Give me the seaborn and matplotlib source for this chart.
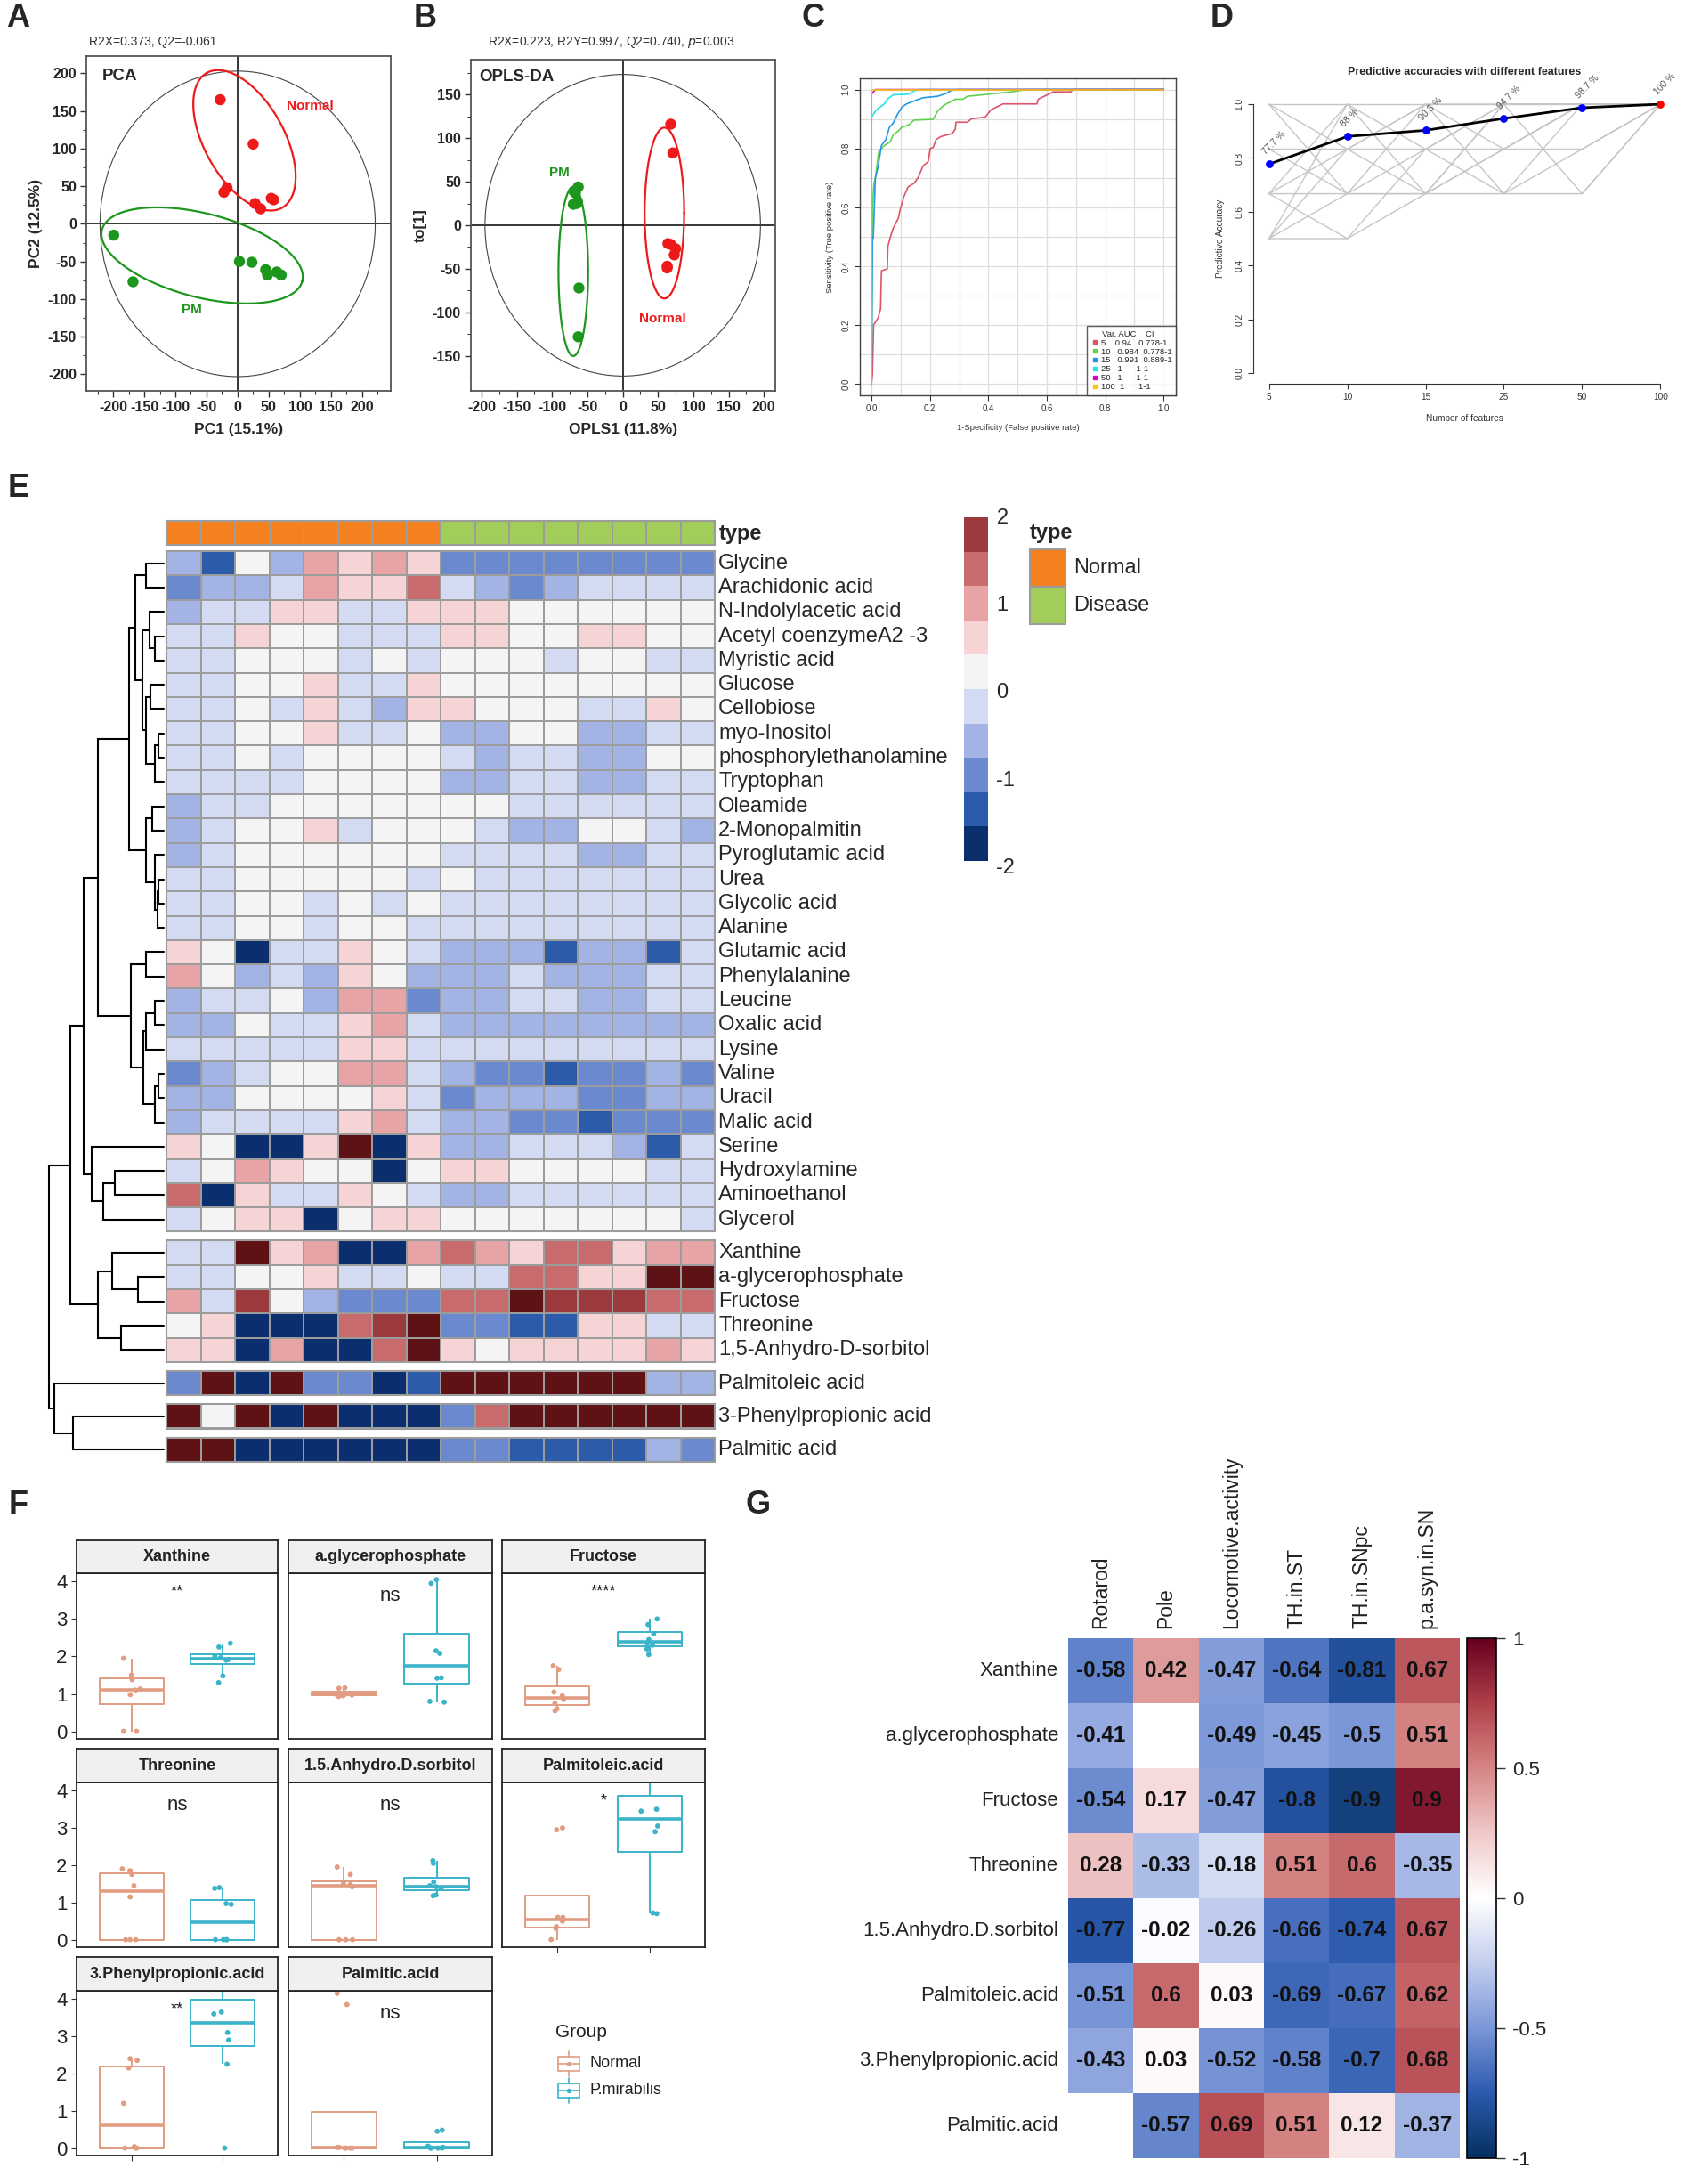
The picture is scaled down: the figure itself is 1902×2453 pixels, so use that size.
import numpy as np
import pandas as pd
import matplotlib
matplotlib.use("Agg")
import matplotlib.pyplot as plt
import seaborn as sns
from matplotlib.patches import Ellipse, Rectangle
from matplotlib.colors import ListedColormap, BoundaryNorm, LinearSegmentedColormap
from matplotlib.ticker import MultipleLocator

# =========================
# Data: panel A (PCA) and B (OPLS-DA)
# =========================

pca_normal_x = [-28, 25, -22, -17, 28, 37, 54, 58]
pca_normal_y = [165, 106, 42, 48, 27, 20, 34, 32]
pca_pm_x = [-199, -168, 3, 23, 45, 48, 63, 70]
pca_pm_y = [-15, -77, -50, -51, -61, -68, -64, -68]
pca_t2 = (221, 203)
pca_ell_normal = ((11, 111), (-60.1, 89.8), (-56.1, -25.5))
pca_ell_pm = ((-57, -42), (160.8, -34.3), (16.9, 53.9))

opls_normal_x = [68, 71, 64, 68, 75, 73, 63, 63]
opls_normal_y = [116, 83, -21, -22, -27, -34, -47, -49]
opls_pm_x = [-63, -69, -67, -70, -65, -64, -62, -63]
opls_pm_y = [44, 39, 37, 24, 25, 27, -72, -128]
opls_t2 = (195, 173)
opls_ell_normal = ((59, 14), (28, 0), (0, 98))
opls_ell_pm = ((-70, -53), (21, 0), (0, 97))

# =========================
# Data: panel C (ROC curves)
# =========================

roc_vars = ['5', '10', '15', '25', '50', '100']
roc_auc = ['0.94', '0.984', '0.991', '1', '1', '1']
roc_ci = ['0.778-1', '0.778-1', '0.889-1', '1-1', '1-1', '1-1']
roc_fpr = [
    [0, 0.003, 0.007, 0.023, 0.031, 0.034, 0.054, 0.056, 0.064, 0.074, 0.092, 0.097,
     0.11, 0.125, 0.145, 0.16, 0.176, 0.194, 0.201, 0.211, 0.221, 0.237, 0.277, 0.287,
     0.289, 0.328, 0.343, 0.389, 0.409, 0.45, 0.566, 0.571, 0.622, 0.683, 0.688, 1.0],
    [0, 0.003, 0.008, 0.013, 0.025, 0.044, 0.064, 0.074, 0.094, 0.103, 0.13, 0.145,
     0.211, 0.226, 0.247, 0.287, 0.313, 0.328, 0.379, 0.429, 0.48, 0.51, 0.541, 1.0],
    [0, 0.003, 0.006, 0.013, 0.023, 0.034, 0.049, 0.061, 0.074, 0.089, 0.105, 0.12,
     0.145, 0.176, 0.226, 0.257, 0.272, 0.297, 1.0],
    [0, 0.0, 0.013, 0.023, 0.044, 0.054, 0.074, 0.125, 0.15, 0.171, 1.0],
    [0, 0.0, 0.013, 1.0],
    [0, 0.0, 1.0],
]
roc_tpr = [
    [0, 0.03, 0.2, 0.225, 0.255, 0.384, 0.391, 0.467, 0.497, 0.528, 0.563, 0.588,
     0.634, 0.669, 0.681, 0.701, 0.74, 0.755, 0.8, 0.803, 0.83, 0.84, 0.851, 0.866,
     0.889, 0.889, 0.901, 0.906, 0.931, 0.951, 0.951, 0.967, 0.992, 0.992, 1.0, 1.0],
    [0, 0.598, 0.679, 0.699, 0.79, 0.81, 0.822, 0.846, 0.861, 0.871, 0.881, 0.896,
     0.899, 0.926, 0.946, 0.967, 0.967, 0.977, 0.982, 0.987, 0.992, 0.997, 1.0, 1.0],
    [0, 0.49, 0.497, 0.699, 0.74, 0.81, 0.83, 0.871, 0.886, 0.916, 0.941, 0.951,
     0.961, 0.972, 0.977, 0.987, 0.997, 1.0, 1.0],
    [0, 0.906, 0.926, 0.936, 0.951, 0.967, 0.982, 0.984, 0.997, 1.0, 1.0],
    [0, 0.984, 1.0, 1.0],
    [0, 1.0, 1.0],
]
roc_colors = ['#DF536B', '#61D04F', '#2297E6', '#28E2E5', '#CD0BBC', '#F5C710']

# =========================
# Data: panel D (accuracy vs features)
# =========================

n_features = ['5', '10', '15', '25', '50', '100']
mean_acc = [0.777, 0.88, 0.903, 0.947, 0.987, 1.0]
acc_labels = ['77.7 %', '88 %', '90.3 %', '94.7 %', '98.7 %', '100 %']
cv_runs = [
    [1.0, 0.833, 0.667, 0.667, 0.667, 1.0],
    [0.667, 1.0, 0.833, 1.0, 1.0, 1.0],
    [0.5, 1.0, 0.667, 0.833, 0.833, 1.0],
    [0.5, 0.833, 1.0, 0.667, 1.0, 1.0],
    [0.667, 0.5, 0.833, 0.833, 1.0, 1.0],
    [0.833, 0.667, 0.667, 1.0, 0.667, 1.0],
    [0.833, 0.833, 0.833, 0.667, 0.833, 1.0],
    [1.0, 1.0, 1.0, 1.0, 1.0, 1.0],
    [0.5, 0.5, 0.667, 1.0, 1.0, 1.0],
    [0.667, 0.833, 1.0, 0.833, 1.0, 1.0],
    [0.5, 0.667, 1.0, 1.0, 1.0, 1.0],
    [0.667, 0.667, 0.833, 1.0, 1.0, 1.0],
    [1.0, 0.667, 0.667, 0.833, 1.0, 1.0],
]

# =========================
# Data: panel E (heatmap, z-scores)
# =========================

sample_type = ['Normal'] * 8 + ['Disease'] * 8
metabolites = [
    'Glycine', 'Arachidonic acid', 'N-Indolylacetic acid', 'Acetyl coenzymeA2 -3',
    'Myristic acid', 'Glucose', 'Cellobiose', 'myo-Inositol', 'phosphorylethanolamine',
    'Tryptophan', 'Oleamide', '2-Monopalmitin', 'Pyroglutamic acid', 'Urea',
    'Glycolic acid', 'Alanine', 'Glutamic acid', 'Phenylalanine', 'Leucine',
    'Oxalic acid', 'Lysine', 'Valine', 'Uracil', 'Malic acid', 'Serine',
    'Hydroxylamine', 'Aminoethanol', 'Glycerol', 'Xanthine', 'a-glycerophosphate',
    'Fructose', 'Threonine', '1,5-Anhydro-D-sorbitol', 'Palmitoleic acid',
    '3-Phenylpropionic acid', 'Palmitic acid',
]
zscores = [
    [-0.55, -1.35, 0.25, -0.55, 1.0, 0.6, 1.0, 0.6, -0.95, -0.95, -0.95, -0.95, -0.95, -0.95, -0.95, -0.95],
    [-0.95, -0.55, -0.55, -0.15, 1.0, 0.6, 0.6, 1.4, -0.15, -0.55, -0.95, -0.55, -0.15, -0.15, -0.15, -0.15],
    [-0.55, -0.15, -0.15, 0.6, 0.6, -0.15, -0.15, 0.6, 0.6, 0.6, 0.25, 0.25, 0.25, 0.25, 0.25, 0.25],
    [-0.15, -0.15, 0.6, 0.25, 0.25, -0.15, -0.15, -0.15, 0.6, 0.6, 0.25, 0.25, 0.6, 0.6, 0.25, 0.25],
    [-0.15, -0.15, 0.25, 0.25, 0.25, -0.15, 0.25, -0.15, 0.25, 0.25, 0.25, -0.15, 0.25, 0.25, -0.15, -0.15],
    [-0.15, -0.15, 0.25, 0.25, 0.6, -0.15, -0.15, 0.6, 0.25, 0.25, 0.25, 0.25, 0.25, 0.25, 0.25, 0.25],
    [-0.15, -0.15, 0.25, -0.15, 0.6, -0.15, -0.55, 0.6, 0.6, 0.25, 0.25, 0.25, -0.15, -0.15, 0.6, 0.25],
    [-0.15, -0.15, 0.25, 0.25, 0.6, -0.15, -0.15, 0.25, -0.55, -0.55, 0.25, 0.25, -0.55, -0.55, -0.15, -0.15],
    [-0.15, -0.15, 0.25, -0.15, 0.25, 0.25, 0.25, 0.25, -0.15, -0.55, -0.15, -0.15, -0.55, -0.55, 0.25, 0.25],
    [-0.15, -0.15, -0.15, -0.15, 0.25, 0.25, 0.25, 0.25, -0.55, -0.55, -0.15, -0.15, -0.55, -0.55, -0.15, -0.15],
    [-0.55, -0.15, -0.15, 0.25, 0.25, 0.25, 0.25, 0.25, 0.25, 0.25, -0.15, -0.15, -0.15, -0.15, -0.15, -0.15],
    [-0.55, -0.15, 0.25, 0.25, 0.6, -0.15, 0.25, 0.25, 0.25, -0.15, -0.55, -0.55, 0.25, 0.25, -0.15, -0.55],
    [-0.55, -0.15, 0.25, 0.25, 0.25, 0.25, 0.25, 0.25, -0.15, -0.15, -0.15, -0.15, -0.55, -0.55, -0.15, -0.15],
    [-0.15, -0.15, 0.25, 0.25, 0.25, 0.25, 0.25, -0.15, 0.25, -0.15, -0.15, -0.15, -0.15, -0.15, -0.15, -0.15],
    [-0.15, -0.15, 0.25, 0.25, -0.15, 0.25, -0.15, 0.25, -0.15, -0.15, -0.15, -0.15, -0.15, -0.15, -0.15, -0.15],
    [-0.15, -0.15, 0.25, 0.25, -0.15, 0.25, 0.25, -0.15, -0.15, -0.15, -0.15, -0.15, -0.15, -0.15, -0.15, -0.15],
    [0.6, 0.25, -2.2, -0.15, -0.15, 0.6, 0.25, -0.15, -0.55, -0.55, -0.55, -1.35, -0.55, -0.55, -1.35, -0.15],
    [1.0, 0.25, -0.55, -0.15, -0.55, 0.6, 0.25, -0.55, -0.55, -0.55, -0.15, -0.55, -0.55, -0.55, -0.15, -0.15],
    [-0.55, -0.15, -0.15, 0.25, -0.55, 1.0, 1.0, -0.95, -0.55, -0.55, -0.15, -0.15, -0.55, -0.55, -0.15, -0.15],
    [-0.55, -0.55, 0.25, -0.15, -0.15, 0.6, 1.0, -0.15, -0.55, -0.55, -0.55, -0.55, -0.55, -0.55, -0.55, -0.55],
    [-0.15, -0.15, -0.15, -0.15, -0.15, 0.6, 0.6, -0.15, -0.15, -0.15, -0.15, -0.15, -0.15, -0.15, -0.15, -0.15],
    [-0.95, -0.55, -0.15, 0.25, 0.25, 1.0, 1.0, -0.15, -0.55, -0.95, -0.95, -1.35, -0.95, -0.95, -0.55, -0.95],
    [-0.55, -0.55, 0.25, 0.25, 0.25, 0.25, 0.6, -0.15, -0.95, -0.55, -0.55, -0.55, -0.95, -0.95, -0.55, -0.55],
    [-0.55, -0.15, -0.15, -0.15, -0.15, 0.6, 1.0, -0.15, -0.55, -0.55, -0.95, -0.95, -1.35, -0.95, -0.95, -0.95],
    [0.6, 0.25, -2.2, -2.2, 0.6, 2.6, -2.2, 0.6, -0.55, -0.55, -0.15, -0.15, -0.15, -0.55, -1.35, -0.15],
    [-0.15, 0.25, 1.0, 0.6, 0.25, 0.25, -2.2, 0.25, 0.6, 0.6, 0.25, 0.25, 0.25, 0.25, -0.15, -0.15],
    [1.4, -2.2, 0.6, -0.15, -0.15, 0.6, 0.25, -0.15, -0.55, -0.55, -0.15, -0.15, -0.15, -0.15, -0.15, -0.15],
    [-0.15, 0.25, 0.6, 0.6, -2.2, 0.25, 0.6, 0.6, 0.25, 0.25, 0.25, 0.25, 0.25, 0.25, 0.25, -0.15],
    [-0.15, -0.15, 2.6, 0.6, 1.0, -2.2, -2.2, 1.0, 1.4, 1.0, 0.6, 1.4, 1.4, 0.6, 1.0, 1.0],
    [-0.15, -0.15, 0.25, 0.25, 0.6, -0.15, -0.15, 0.25, -0.15, -0.15, 1.4, 1.4, 0.6, 0.6, 2.6, 2.6],
    [1.0, -0.15, 1.8, 0.25, -0.55, -0.95, -0.95, -0.95, 1.4, 1.4, 2.6, 1.8, 1.8, 1.8, 1.4, 1.4],
    [0.25, 0.6, -2.2, -2.2, -2.2, 1.4, 1.8, 2.6, -0.95, -0.95, -1.35, -1.35, 0.6, 0.6, -0.15, -0.15],
    [0.6, 0.6, -2.2, 1.0, -2.2, -2.2, 1.4, 2.6, 0.6, 0.25, 0.6, 0.6, 0.6, 0.6, 1.0, 0.6],
    [-0.95, 2.6, -2.2, 2.6, -0.95, -0.95, -2.2, -1.35, 2.6, 2.6, 2.6, 2.6, 2.6, 2.6, -0.55, -0.55],
    [2.6, 0.25, 2.6, -2.2, 2.6, -2.2, -2.2, -2.2, -0.95, 1.4, 2.6, 2.6, 2.6, 2.6, 2.6, 2.6],
    [2.6, 2.6, -2.2, -2.2, -2.2, -2.2, -2.2, -2.2, -0.95, -0.95, -1.35, -1.35, -1.35, -1.35, -0.55, -0.95],
]
row_clusters = [28, 5, 1, 1, 1]
# row dendrogram: (child a, child b, height); nodes >= 36 are earlier merges
row_merges = [
    (0, 1, 1.25), (3, 4, 0.6), (2, 37, 1.0), (5, 6, 0.9), (7, 8, 0.4), (40, 9, 0.6),
    (39, 41, 1.25), (38, 42, 1.5), (10, 11, 0.8), (13, 14, 0.35), (45, 15, 0.45),
    (12, 46, 0.6), (44, 47, 1.25), (36, 43, 2.0), (49, 48, 2.4), (16, 17, 1.25),
    (18, 19, 0.6), (52, 20, 1.25), (21, 22, 0.35), (54, 23, 0.6), (53, 55, 1.4),
    (51, 56, 2.3), (50, 57, 4.6), (25, 26, 3.4), (59, 27, 4.2), (24, 60, 5.0),
    (58, 61, 5.6), (29, 30, 1.8), (28, 63, 3.6), (31, 32, 3.0), (64, 65, 4.6),
    (62, 66, 6.5), (34, 35, 6.3), (33, 68, 7.6), (67, 69, 8.0),
]

# =========================
# Data: panel F (box plots)
# =========================

f_names = ['Xanthine', 'a.glycerophosphate', 'Fructose', 'Threonine',
           '1.5.Anhydro.D.sorbitol', 'Palmitoleic.acid', '3.Phenylpropionic.acid',
           'Palmitic.acid']
f_normal = [
    [0.0, 0.0, 0.98, 1.10, 1.13, 1.38, 1.50, 1.95],
    [0.93, 0.95, 0.97, 1.0, 1.0, 1.02, 1.15, 1.16],
    [0.55, 0.60, 0.75, 0.85, 0.95, 1.05, 1.65, 1.75],
    [0.0, 0.0, 0.0, 1.15, 1.45, 1.75, 1.85, 1.90],
    [0.0, 0.0, 0.0, 1.42, 1.48, 1.52, 1.75, 1.95],
    [0.0, 0.30, 0.35, 0.50, 0.60, 0.60, 2.95, 3.00],
    [0.0, 0.0, 0.0, 0.04, 1.20, 2.15, 2.35, 2.40],
    [0.0, 0.0, 0.0, 0.0, 0.02, 0.02, 3.85, 4.15],
]
f_pm = [
    [1.30, 1.48, 1.90, 1.92, 1.97, 2.00, 2.25, 2.35],
    [0.78, 0.80, 1.42, 1.43, 2.08, 2.15, 3.95, 4.05],
    [2.05, 2.20, 2.30, 2.35, 2.45, 2.60, 2.85, 3.00],
    [0.0, 0.0, 0.0, 0.0, 0.95, 0.97, 1.38, 1.40],
    [1.18, 1.20, 1.38, 1.42, 1.45, 1.55, 2.05, 2.12],
    [0.70, 0.72, 2.90, 3.05, 3.45, 3.50, 4.90, 5.20],
    [0.0, 2.25, 2.90, 3.10, 3.60, 3.65, 4.93, 5.00],
    [0.0, 0.0, 0.0, 0.0, 0.02, 0.05, 0.45, 0.48],
]
f_sig = ['**', 'ns', '****', 'ns', 'ns', '*', '**', 'ns']
f_sig_y = [3.72, 3.62, 3.72, 3.62, 3.62, 3.72, 3.72, 3.62]

# =========================
# Data: panel G (correlations)
# =========================

g_rows = ['Xanthine', 'a.glycerophosphate', 'Fructose', 'Threonine',
          '1.5.Anhydro.D.sorbitol', 'Palmitoleic.acid', '3.Phenylpropionic.acid',
          'Palmitic.acid']
g_cols = ['Rotarod', 'Pole', 'Locomotive.activity', 'TH.in.ST', 'TH.in.SNpc',
          'p.a.syn.in.SN']
g_corr = [
    [-0.58, 0.42, -0.47, -0.64, -0.81, 0.67],
    [-0.41, np.nan, -0.49, -0.45, -0.5, 0.51],
    [-0.54, 0.17, -0.47, -0.8, -0.9, 0.9],
    [0.28, -0.33, -0.18, 0.51, 0.6, -0.35],
    [-0.77, -0.02, -0.26, -0.66, -0.74, 0.67],
    [-0.51, 0.6, 0.03, -0.69, -0.67, 0.62],
    [-0.43, 0.03, -0.52, -0.58, -0.7, 0.68],
    [np.nan, -0.57, 0.69, 0.51, 0.12, -0.37],
]

# =========================
# Figure setup
# =========================

sns.set_style("ticks")
plt.rcParams['font.family'] = ['Liberation Sans', 'DejaVu Sans']
plt.rcParams['axes.unicode_minus'] = False

W, H = 1902, 2453
fig = plt.figure(figsize=(W / 100, H / 100), dpi=100)


def px_axes(x0, y0, x1, y1):
    return fig.add_axes([x0 / W, 1 - y1 / H, (x1 - x0) / W, (y1 - y0) / H])


RED = '#EE1A1A'
GREEN = '#1C961C'


def score_plot(ax, nx, ny, qx, qy, t2, ell_n, ell_p, xlim, ylim, yticks):
    df = pd.DataFrame({'x': nx + qx, 'y': ny + qy,
                       'group': ['Normal'] * len(nx) + ['PM'] * len(qx)})
    ax.axhline(0, color='black', lw=1.1, zorder=1)
    ax.axvline(0, color='black', lw=1.1, zorder=1)
    ax.add_patch(Ellipse((0, 0), 2 * t2[0], 2 * t2[1], fill=False, ec='#444444', lw=0.8))
    t = np.linspace(0, 2 * np.pi, 300)
    for (c, v1, v2), col in [(ell_n, RED), (ell_p, GREEN)]:
        ax.plot(c[0] + v1[0] * np.cos(t) + v2[0] * np.sin(t),
                c[1] + v1[1] * np.cos(t) + v2[1] * np.sin(t), color=col, lw=1.6)
    sns.scatterplot(data=df, x='x', y='y', hue='group',
                    palette={'Normal': RED, 'PM': GREEN}, s=80, linewidth=0,
                    legend=False, ax=ax, zorder=3)
    ax.set_xlim(*xlim)
    ax.set_ylim(*ylim)
    xt = list(range(-200, 201, 50))
    ax.set_xticks(xt)
    ax.set_xticklabels([str(v) for v in xt], fontweight='bold', fontsize=11.5)
    ax.set_yticks(yticks)
    ax.set_yticklabels([str(v) for v in yticks], fontweight='bold', fontsize=11.5)
    ax.xaxis.set_minor_locator(MultipleLocator(25))
    ax.yaxis.set_minor_locator(MultipleLocator(25))
    ax.tick_params(which='major', length=5, width=1, color='#333333', direction='out', pad=3)
    ax.tick_params(which='minor', length=3, width=0.8, color='#333333', direction='out')
    for s in ax.spines.values():
        s.set_visible(True)
        s.set_color('#555555')
        s.set_linewidth(1.3)


# =========================
# Panel A
# =========================

axA = px_axes(97, 63, 439, 439)
score_plot(axA, pca_normal_x, pca_normal_y, pca_pm_x, pca_pm_y, pca_t2,
           pca_ell_normal, pca_ell_pm, (-243, 246), (-222, 223),
           list(range(200, -201, -50)))
axA.set_xlabel('PC1 (15.1%)', fontsize=12.5, fontweight='bold', labelpad=7)
axA.set_ylabel('PC2 (12.5%)', fontsize=12.5, fontweight='bold', labelpad=4)
axA.text(-217, 196, 'PCA', fontsize=13.5, fontweight='bold', va='center', ha='left')
axA.text(78, 157, 'Normal', fontsize=11, fontweight='bold', color=RED, va='center')
axA.text(-74, -114, 'PM', fontsize=11, fontweight='bold', color=GREEN, va='center', ha='center')

# =========================
# Panel B
# =========================

axB = px_axes(529, 67, 871, 439)
score_plot(axB, opls_normal_x, opls_normal_y, opls_pm_x, opls_pm_y, opls_t2,
           opls_ell_normal, opls_ell_pm, (-215, 216), (-190, 190),
           list(range(150, -151, -50)))
axB.set_xlabel('OPLS1 (11.8%)', fontsize=12.5, fontweight='bold', labelpad=7)
axB.set_ylabel('to[1]', fontsize=12.5, fontweight='bold', labelpad=4)
axB.text(-203, 170, 'OPLS-DA', fontsize=13.5, fontweight='bold', va='center', ha='left')
axB.text(-90, 60, 'PM', fontsize=11, fontweight='bold', color=GREEN, va='center', ha='center')
axB.text(57, -107, 'Normal', fontsize=11, fontweight='bold', color=RED, va='center', ha='center')

# =========================
# Panel C
# =========================

axC = px_axes(966, 88, 1321, 444)
roc_df = pd.DataFrame({
    'fpr': [v for curve in roc_fpr for v in curve],
    'tpr': [v for curve in roc_tpr for v in curve],
    'var': [roc_vars[i] for i, curve in enumerate(roc_fpr) for _ in curve],
})
axC.set_xticks(np.arange(0, 1.01, 0.1), minor=True)
axC.set_yticks(np.arange(0, 1.01, 0.1), minor=True)
axC.grid(True, which='both', color='#DEDEDE', lw=0.9)
axC.set_axisbelow(True)
sns.lineplot(data=roc_df, x='fpr', y='tpr', hue='var', hue_order=roc_vars,
             palette=dict(zip(roc_vars, roc_colors)), sort=False, estimator=None,
             lw=1.2, legend=False, ax=axC)
axC.set_xlim(-0.04, 1.042)
axC.set_ylim(-0.039, 1.038)
axC.set_xticks([0, 0.2, 0.4, 0.6, 0.8, 1.0])
axC.set_xticklabels(['0.0', '0.2', '0.4', '0.6', '0.8', '1.0'])
axC.set_yticks([0, 0.2, 0.4, 0.6, 0.8, 1.0])
axC.set_yticklabels(['0.0', '0.2', '0.4', '0.6', '0.8', '1.0'], rotation=90, va='center')
axC.tick_params(which='major', length=4, labelsize=7, labelcolor='#333333', color='#333333')
axC.tick_params(which='minor', length=0)
axC.set_xlabel('1-Specificity (False positive rate)', fontsize=6.8, color='#333333', labelpad=8)
axC.set_ylabel('Sensitivity (True positive rate)', fontsize=6.8, color='#333333', labelpad=6)
for s in axC.spines.values():
    s.set_color('#444444')
    s.set_linewidth(1.0)
handles = [plt.Line2D([], [], marker='s', ls='', color=c, markersize=3.3) for c in roc_colors]
labels = [f'{v:<4} {a:<6} {ci}' for v, a, ci in zip(roc_vars, roc_auc, roc_ci)]
legC = axC.legend(handles, labels, title='     Var. AUC    CI', loc='lower right',
                  bbox_to_anchor=(1.0, 0.0), borderaxespad=0, fontsize=6.8,
                  title_fontsize=6.8, frameon=True, fancybox=False, edgecolor='#333333',
                  handletextpad=0.2, labelspacing=0.1, borderpad=0.5, handlelength=1.0,
                  alignment='left')
legC.get_frame().set_linewidth(1.0)

# =========================
# Panel D
# =========================

axD = px_axes(1408, 105, 1883, 431)
pos = list(range(1, len(n_features) + 1))
cv_df = pd.DataFrame({
    'pos': pos * len(cv_runs),
    'acc': [v for run in cv_runs for v in run],
    'run': [i for i in range(len(cv_runs)) for _ in pos],
})
sns.lineplot(data=cv_df, x='pos', y='acc', units='run', estimator=None,
             color='#C6C6C6', lw=1.0, ax=axD)
sns.lineplot(x=pos, y=mean_acc, color='black', lw=2.0, ax=axD)
sns.scatterplot(x=pos[:-1], y=mean_acc[:-1], color='#0000FF', s=40, linewidth=0, zorder=5, ax=axD)
sns.scatterplot(x=pos[-1:], y=mean_acc[-1:], color='#FF0000', s=40, linewidth=0, zorder=5, ax=axD)
for xi, yi, lab in zip(pos, mean_acc, acc_labels):
    axD.text(xi - 0.02, yi + 0.03, lab, rotation=45, rotation_mode='anchor',
             ha='left', va='bottom', fontsize=7.5, color='#555555')
axD.set_xlim(0.8, 6.2)
axD.set_ylim(-0.04, 1.04)
axD.set_xticks(pos)
axD.set_xticklabels(n_features)
axD.set_yticks([0, 0.2, 0.4, 0.6, 0.8, 1.0])
axD.set_yticklabels(['0.0', '0.2', '0.4', '0.6', '0.8', '1.0'], rotation=90, va='center')
axD.tick_params(length=4, labelsize=7.3, labelcolor='#333333', color='#333333')
sns.despine(ax=axD)
axD.spines['left'].set_bounds(0, 1)
axD.spines['bottom'].set_bounds(1, 6)
axD.spines['left'].set_color('#333333')
axD.spines['bottom'].set_color('#333333')
axD.set_title('Predictive accuracies with different features', fontsize=9,
              fontweight='bold', pad=15)
axD.set_xlabel('Number of features', fontsize=7.3, color='#333333', labelpad=10)
axD.set_ylabel('Predictive Accuracy', fontsize=7.3, color='#333333', labelpad=8)

# =========================
# Panel E: heatmap with row dendrogram
# =========================

E_COLORS = ['#0B2F6E', '#2B5BA9', '#6A89CF', '#A3B3E3', '#D3DBF2',
            '#F4F4F4', '#F6D4D6', '#E6A4A6', '#C86B6D', '#9B3B3D']
E_BOUNDS = [-1.92, -1.53, -1.14, -0.75, -0.35, 0.04, 0.44, 0.83, 1.22, 1.61, 2.01]
cmapE = ListedColormap(E_COLORS)
cmapE.set_over('#5E1215')
cmapE.set_under('#0B2F6E')
normE = BoundaryNorm(E_BOUNDS, cmapE.N)
ORANGE = '#F5801F'
LIME = '#A2CD5A'
GRIDC = '#9C9C9C'
E_FS = 17

E_X0, E_X1 = 187, 803
E_ROWH, E_GAP, E_TOP = 27.3, 10.0, 619.0

zdf = pd.DataFrame(zscores, index=metabolites)

# annotation bar
axT = px_axes(E_X0, E_TOP - 7 - E_ROWH, E_X1, E_TOP - 7)
type_codes = [[0 if t == 'Normal' else 1 for t in sample_type]]
sns.heatmap(type_codes, cmap=ListedColormap([ORANGE, LIME]), vmin=-0.5, vmax=1.5,
            cbar=False, linewidths=1.1, linecolor=GRIDC, xticklabels=False,
            yticklabels=False, ax=axT)
for s in axT.spines.values():
    s.set_visible(True)
    s.set_color(GRIDC)
    s.set_linewidth(1.5)
axT.text(16.12, 0.55, 'type', fontsize=E_FS, fontweight='bold', va='center', ha='left')

leaf_y = []
y = E_TOP
start = 0
for n in row_clusters:
    axE = px_axes(E_X0, y, E_X1, y + n * E_ROWH)
    sns.heatmap(zdf.iloc[start:start + n], cmap=cmapE, norm=normE, cbar=False,
                linewidths=1.1, linecolor=GRIDC, xticklabels=False, yticklabels=True,
                ax=axE)
    axE.yaxis.tick_right()
    axE.tick_params(axis='y', length=0, pad=3, labelsize=E_FS, labelright=True,
                    labelleft=False)
    plt.setp(axE.get_yticklabels(), rotation=0, ha='left', va='center')
    for s in axE.spines.values():
        s.set_visible(True)
        s.set_color(GRIDC)
        s.set_linewidth(1.5)
    for i in range(n):
        leaf_y.append(y + (i + 0.5) * E_ROWH)
    y += n * E_ROWH + E_GAP
    start += n

# dendrogram
root_h = row_merges[-1][2]
axDen = px_axes(55, E_TOP, 184, leaf_y[-1] + E_ROWH / 2)
node = {i: (0.0, leaf_y[i]) for i in range(len(metabolites))}
for k, (a, b, h) in enumerate(row_merges):
    xa, ya = node[a]
    xb, yb = node[b]
    axDen.plot([xa, h, h, xb], [ya, ya, yb, yb], color='black', lw=1.5,
               solid_joinstyle='miter', clip_on=False)
    node[len(metabolites) + k] = (h, (ya + yb) / 2)
axDen.set_xlim(root_h, 0)
axDen.set_ylim(leaf_y[-1] + E_ROWH / 2, E_TOP)
axDen.axis('off')

# color key
axK = px_axes(1083, 581, 1110, 967)
centers = [(a + b) / 2 for a, b in zip(E_BOUNDS[:-1], E_BOUNDS[1:])]
sns.heatmap([[c] for c in centers[::-1]], cmap=cmapE, norm=normE, cbar=False,
            xticklabels=False, yticklabels=False, ax=axK)
span = E_BOUNDS[-1] - E_BOUNDS[0]
for v in [2, 1, 0, -1, -2]:
    axK.text(1.35, (E_BOUNDS[-1] - v) / span * len(centers), str(v), fontsize=E_FS,
             va='center', ha='left', clip_on=False)

# =========================
# Panel F: box plots
# =========================

F_COLS = {'Normal': '#E29C82', 'P.mirabilis': '#3BB3C8'}
F_ORDER = ['Normal', 'P.mirabilis']
F_X = [(86, 312), (324, 553), (564, 792)]
F_Y = [(1730, 1767, 1953), (1964, 2002, 2187), (2198, 2236, 2421)]
np.random.seed(7)
for i, name in enumerate(f_names):
    r, c = divmod(i, 3)
    x0, x1 = F_X[c]
    s0, s1, p1 = F_Y[r]
    d = pd.DataFrame({'value': f_normal[i] + f_pm[i],
                      'Group': ['Normal'] * len(f_normal[i]) + ['P.mirabilis'] * len(f_pm[i])})
    ax = px_axes(x0, s1, x1, p1)
    sns.boxplot(data=d, x='Group', y='value', hue='Group', order=F_ORDER,
                hue_order=F_ORDER, palette=F_COLS, fill=False, width=0.7,
                linewidth=1.4, showfliers=False, legend=False, ax=ax,
                medianprops={'linewidth': 2.6}, capprops={'linewidth': 0})
    sns.stripplot(data=d, x='Group', y='value', hue='Group', order=F_ORDER,
                  hue_order=F_ORDER, palette=F_COLS, jitter=0.1, size=4.2,
                  legend=False, ax=ax)
    ax.text(0.5, f_sig_y[i], f_sig[i], ha='center', va='center',
            fontsize=16 if f_sig[i] == 'ns' else 13, color='#222222')
    ax.set_xlim(-0.6, 1.6)
    ax.set_ylim(-0.2, 4.22)
    ax.set_xlabel('')
    ax.set_ylabel('')
    ax.set_yticks([0, 1, 2, 3, 4])
    if c == 0:
        ax.set_yticklabels(['0', '1', '2', '3', '4'], fontsize=16)
        ax.tick_params(axis='y', length=4, color='#333333', labelcolor='#222222')
    else:
        ax.tick_params(axis='y', left=False, labelleft=False)
    if i >= 5:
        ax.tick_params(axis='x', bottom=True, labelbottom=False, length=4, color='#333333')
    else:
        ax.tick_params(axis='x', bottom=False, labelbottom=False)
    for s in ax.spines.values():
        s.set_visible(True)
        s.set_color('#222222')
        s.set_linewidth(1.3)
    axS = px_axes(x0, s0, x1, s1)
    axS.set_facecolor('#F0F0F0')
    axS.set_xticks([])
    axS.set_yticks([])
    for s in axS.spines.values():
        s.set_visible(True)
        s.set_color('#222222')
        s.set_linewidth(1.3)
    axS.text(0.5, 0.5, name, ha='center', va='center', fontsize=13,
             fontweight='bold', color='#222222', transform=axS.transAxes)

# =========================
# Panel G: correlation heatmap
# =========================

corr_df = pd.DataFrame(g_corr, index=g_rows, columns=g_cols)
annot = corr_df.apply(lambda col: col.map(lambda v: '' if np.isnan(v) else f'{v:g}'))
cmapG = LinearSegmentedColormap.from_list(
    'corr', ['#053061', '#2C5AAE', '#7B97D8', '#C3CEEE', '#FFFFFF',
             '#F0C9C9', '#D68585', '#B0414B', '#67001F'])
axG = px_axes(1200, 1840, 1640, 2424)
caxG = px_axes(1648, 1840, 1681, 2424)
sns.heatmap(corr_df, cmap=cmapG, vmin=-1, vmax=1, annot=annot.values, fmt='',
            annot_kws={'fontsize': 17.5, 'fontweight': 'bold', 'color': '#111111'},
            cbar_ax=caxG, ax=axG)
axG.xaxis.tick_top()
axG.set_xticklabels(g_cols, rotation=90, fontsize=16.5, color='#222222')
axG.set_yticklabels(g_rows, rotation=0, fontsize=16, color='#222222')
axG.tick_params(length=0, pad=8)
cbar = axG.collections[0].colorbar
cbar.set_ticks([-1, -0.5, 0, 0.5, 1])
cbar.set_ticklabels(['-1', '-0.5', '0', '0.5', '1'])
cbar.ax.tick_params(labelsize=16, length=7, width=1, color='#333333', pad=6)
cbar.outline.set_edgecolor('black')
cbar.outline.set_linewidth(1.2)

# =========================
# Overlay: panel letters, subtitles, legends
# =========================

ov = fig.add_axes([0, 0, 1, 1], facecolor='none')
ov.set_xlim(0, W)
ov.set_ylim(H, 0)
ov.axis('off')

for letter, (lx, ly) in {'A': (20, 20), 'B': (478, 20), 'C': (913, 20), 'D': (1373, 20),
                         'E': (21, 549), 'F': (21, 1690), 'G': (852, 1690)}.items():
    ov.text(lx, ly, letter, fontsize=26, fontweight='bold', ha='center', va='center')

ov.text(100, 47, 'R2X=0.373, Q2=-0.061', fontsize=10, color='#333333', va='center', ha='left')
ov.text(687, 47, r'R2X=0.223, R2Y=0.997, Q2=0.740, $\it{p}$=0.003', fontsize=10,
        color='#333333', va='center', ha='center')

# heatmap type legend
ov.text(1157, 598, 'type', fontsize=E_FS, fontweight='bold', va='center', ha='left')
for k, (lab, col) in enumerate([('Normal', ORANGE), ('Disease', LIME)]):
    ov.add_patch(Rectangle((1157, 617 + k * 42), 40, 42, facecolor=col, edgecolor=GRIDC, lw=1.5))
    ov.text(1206, 638 + k * 42, lab, fontsize=E_FS, va='center', ha='left')

# box plot legend
ov.text(624, 2282, 'Group', fontsize=15, va='center', ha='left', color='#222222')
for k, grp in enumerate(F_ORDER):
    yy = 2318 + k * 30
    col = F_COLS[grp]
    ov.add_patch(Rectangle((627, yy - 8), 24, 16, fill=False, ec=col, lw=1.2))
    ov.plot([627, 651], [yy, yy], color=col, lw=1.2)
    ov.plot([639, 639], [yy - 14, yy - 8], color=col, lw=1.2)
    ov.plot([639, 639], [yy + 8, yy + 14], color=col, lw=1.2)
    ov.scatter([639], [yy], s=8, color=col)
    ov.text(662, yy, grp, fontsize=13, va='center', ha='left', color='#222222')

fig.savefig('out.png', dpi=100)
